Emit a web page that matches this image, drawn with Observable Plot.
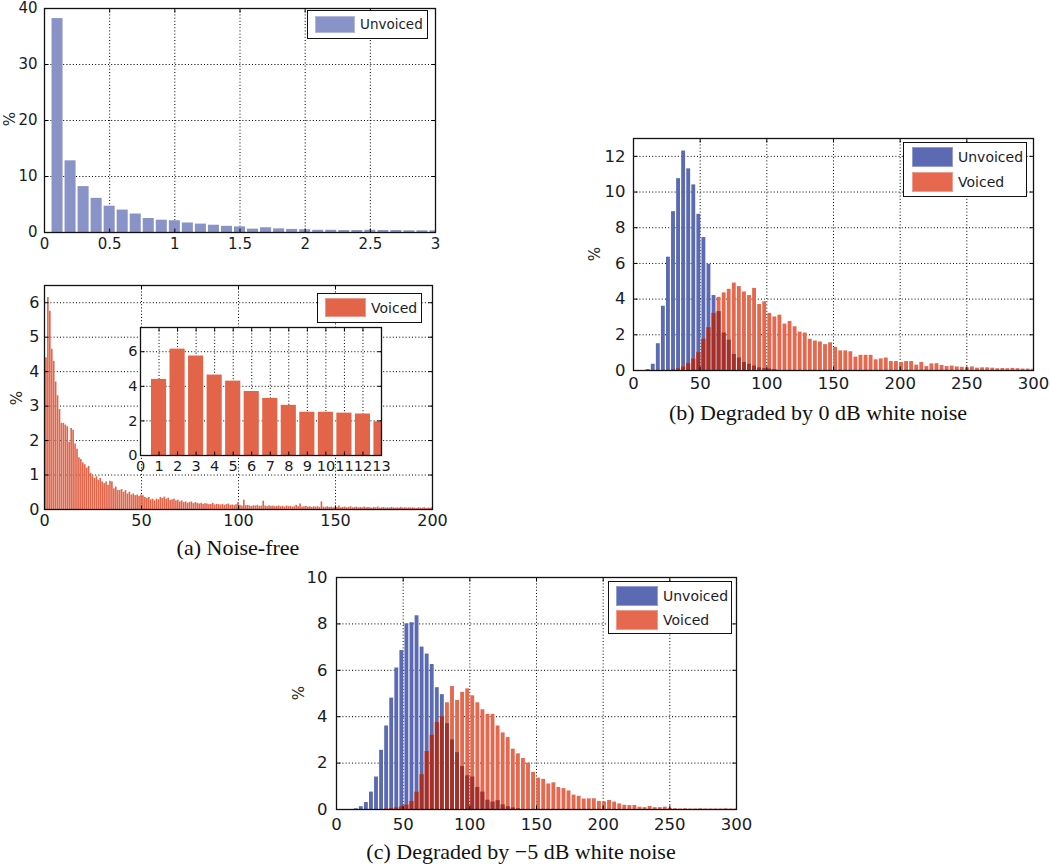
<!DOCTYPE html>
<html><head><meta charset="utf-8">
<script src="https://cdn.jsdelivr.net/npm/d3@7"></script>
<script src="https://cdn.jsdelivr.net/npm/@observablehq/plot@0.6"></script>
<style>
body{margin:0;background:#fff;}
#root{position:relative;width:1050px;height:866px;overflow:hidden;font-family:"DejaVu Sans";background:#fff;}
.panel{position:absolute;}
.legend{position:absolute;box-sizing:border-box;border:1.4px solid #111;background:#fff;}
.sw{position:absolute;}
.lt{position:absolute;white-space:nowrap;line-height:1;font-family:"DejaVu Sans";color:#1c1c28;transform:translateY(-50%);}
.cap{position:absolute;font-family:"Liberation Serif";font-size:22px;color:#111;white-space:nowrap;transform:translate(-50%,-50%);}
.ylab{position:absolute;font-family:"DejaVu Sans";font-size:15px;color:#2a2a2a;transform:translate(-50%,-50%) rotate(-90deg);}
</style></head><body><div id="root"></div>
<script>
// ---------------- DATA ----------------
// (a) top: unvoiced, noise-free (bin centers and %)
const aUnvCenters = [0.1,0.2,0.3,0.4,0.5,0.6,0.7,0.8,0.9,1.0,1.1,1.2,1.3,1.4,1.5,1.6,1.7,1.8,1.9,2.0,2.1,2.2,2.3,2.4,2.5,2.6,2.7,2.8,2.9,3.0];
const aUnvPct = [38.2,12.8,8.2,6.1,4.7,4.0,3.3,2.5,2.2,2.1,1.7,1.5,1.3,1.1,1.0,0.6,0.85,0.65,0.55,0.5,0.4,0.4,0.35,0.35,0.4,0.35,0.35,0.3,0.3,0.3];
const aUnvWidth = 0.1;
// (a) bottom: voiced, noise-free (bins 1..200, width 1)
const aVoiPct = [
 4.4,6.15,5.75,4.65,4.3,3.7,3.3,2.9,2.5,2.5,
 2.45,2.4,1.95,2.35,2.3,1.9,1.75,1.5,1.45,1.35,
 1.3,1.2,1.25,1.05,1.0,0.9,0.95,0.85,0.9,0.8,
 0.75,0.8,0.7,0.82,0.8,0.6,0.65,0.55,0.55,0.58,
 0.5,0.55,0.45,0.5,0.42,0.45,0.4,0.42,0.38,0.42,
 0.4,0.35,0.32,0.35,0.28,0.3,0.25,0.3,0.28,0.35,
 0.32,0.36,0.3,0.33,0.26,0.28,0.3,0.25,0.27,0.22,
 0.25,0.2,0.22,0.18,0.2,0.22,0.17,0.2,0.18,0.16,
 0.18,0.15,0.17,0.16,0.14,0.15,0.18,0.13,0.15,0.14,
 0.13,0.15,0.12,0.14,0.16,0.12,0.13,0.11,0.14,0.2,
 0.12,0.1,0.27,0.11,0.12,0.1,0.09,0.11,0.1,0.12,
 0.09,0.1,0.24,0.1,0.08,0.11,0.09,0.1,0.08,0.09,
 0.1,0.08,0.09,0.07,0.1,0.08,0.09,0.07,0.08,0.12,
 0.08,0.16,0.07,0.08,0.09,0.07,0.08,0.06,0.08,0.07,
 0.08,0.06,0.22,0.07,0.06,0.08,0.06,0.07,0.05,0.07,
 0.06,0.1,0.05,0.06,0.07,0.05,0.06,0.08,0.05,0.06,
 0.07,0.05,0.06,0.05,0.07,0.05,0.06,0.05,0.04,0.06,
 0.05,0.07,0.04,0.05,0.06,0.04,0.05,0.04,0.06,0.05,
 0.04,0.05,0.04,0.06,0.04,0.05,0.04,0.05,0.04,0.05,
 0.04,0.03,0.05,0.04,0.04,0.05,0.03,0.04,0.04,0.05];
const aVoiFirstBin = 1, aVoiWidth = 1;
const insetBins = 13;
// (b) 0 dB and (c) -5 dB: bins start at 3.4, width 3.8
const noisyFirstBin = 3.4, noisyWidth = 3.8;
const bUnvPct = [
 0,0,0.05,0.35,1.5,3.6,6.35,8.9,10.75,12.3,
 11.3,10.4,8.75,7.45,5.95,4.2,3.3,2.1,1.7,0.9,
 0.7,0.45,0.35,0.25,0.15,0.1,0.08,0.05,0,0,
 0,0,0,0,0,0,0,0,0,0, 0,0,0,0,0,0,0,0,0,0,
 0,0,0,0,0,0,0,0,0,0, 0,0,0,0,0,0,0,0,0,0,
 0,0,0,0,0,0,0,0,0];
const bVoiPct = [
 0,0,0,0,0,0,0,0.05,0.1,0.2,
 0.4,0.65,1.0,1.75,2.4,3.2,4.1,4.35,4.55,4.9,
 4.7,4.4,4.2,4.6,3.7,3.85,3.2,3.0,3.1,2.6,
 2.75,2.45,2.15,2.1,1.75,1.65,1.6,1.45,1.55,1.3,
 1.1,1.1,1.05,0.75,0.85,0.85,0.85,0.6,0.65,0.7,
 0.5,0.5,0.45,0.5,0.5,0.3,0.45,0.22,0.37,0.38,
 0.28,0.22,0.25,0.2,0.18,0.15,0.2,0.13,0.15,0.15,
 0.13,0.1,0.11,0.1,0.12,0.1,0.08,0.08,0.07];
const cUnvPct = [
 0,0,0,0.03,0.12,0.3,0.75,1.4,2.55,3.6,
 4.8,6.1,6.85,8.0,8.05,8.35,7.0,6.7,6.25,5.25,
 4.95,3.7,3.0,2.45,1.85,1.45,1.4,0.95,0.75,0.4,
 0.32,0.38,0.2,0.12,0.07,0.03,0,0,0,0,
 0,0,0,0,0,0,0,0,0,0, 0,0,0,0,0,0,0,0,0,0,
 0,0,0,0,0,0,0,0,0,0, 0,0,0,0,0,0,0,0,0];
const cVoiPct = [
 0,0,0,0,0,0,0,0,0,0.02,
 0.05,0.08,0.12,0.2,0.35,0.75,1.5,2.5,3.2,3.75,
 4.0,4.6,5.3,4.7,5.05,5.2,4.9,4.6,4.3,4.1,
 4.1,3.6,3.3,3.1,2.6,2.4,2.2,2.0,1.6,1.35,
 1.3,1.1,1.15,0.95,0.9,0.8,0.62,0.57,0.45,0.46,
 0.46,0.35,0.33,0.39,0.32,0.24,0.18,0.17,0.17,0.1,
 0.08,0.13,0.08,0.08,0.1,0.05,0.03,0.02,0.03,0.02,
 0.02,0.03,0.02,0.02,0.02,0.02,0.03,0.02,0.02];
const seriesNames = ["Unvoiced","Voiced"];
const captions = ["(a) Noise-free","(b) Degraded by 0 dB white noise","(c) Degraded by \u22125 dB white noise"];
const aTopXTicks=[0,0.5,1,1.5,2,2.5,3], aTopYTicks=[0,10,20,30,40];
const aBotXTicks=[0,50,100,150,200], aBotYTicks=[0,1,2,3,4,5,6];
const insXTicks=[0,1,2,3,4,5,6,7,8,9,10,11,12,13], insYTicks=[0,2,4,6];
const noisyXTicks=[0,50,100,150,200,250,300];
const bYTicks=[0,2,4,6,8,10,12], cYTicks=[0,2,4,6,8,10];

// ---------------- STYLE ----------------
const C_LIGHTBLUE="#8a93c8", C_BLUE="#5b6ab3", C_RED="#e6684e", C_DARK="#a5302a", C_RED_A="#e2654a";
const root=document.getElementById("root");

const TUP={draw(c){c.moveTo(0,0);c.lineTo(0,-4);}};
const TDOWN={draw(c){c.moveTo(0,0);c.lineTo(0,4);}};
const TRIGHT={draw(c){c.moveTo(0,0);c.lineTo(4,0);}};
const TLEFT={draw(c){c.moveTo(0,0);c.lineTo(-4,0);}};

function bars(centers, values, w, fill, inset){
  const data = values.map((v,i)=>({x1:centers[i]-w/2, x2:centers[i]+w/2, y:v}));
  return Plot.rectY(data,{x1:"x1",x2:"x2",y:"y",fill,insetLeft:inset,insetRight:inset,clip:true});
}

function panel(o){
  const grid={stroke:"#000",strokeOpacity:1,strokeWidth:1,strokeDasharray:"1,2.2"};
  const marks=[];
  if(o.frameFill) marks.push(Plot.frame({fill:o.frameFill,stroke:null}));
  marks.push(Plot.gridX(o.xGrid,grid));
  marks.push(Plot.gridY(o.yGrid,grid));
  marks.push(...o.marks);
  const tk={stroke:"#000",fill:"none",strokeWidth:1};
  marks.push(Plot.dot(o.xTicks,{x:d=>d,frameAnchor:"bottom",symbol:TUP,...tk}));
  marks.push(Plot.dot(o.xTicks,{x:d=>d,frameAnchor:"top",symbol:TDOWN,...tk}));
  marks.push(Plot.dot(o.yTicks,{y:d=>d,frameAnchor:"left",symbol:TRIGHT,...tk}));
  marks.push(Plot.dot(o.yTicks,{y:d=>d,frameAnchor:"right",symbol:TLEFT,...tk}));
  marks.push(Plot.frame({stroke:"#111",strokeWidth:1.3}));
  marks.push(Plot.axisX(o.xTicks,{tickSize:0,tickPadding:o.xPad,tickFormat:d=>String(d),fontSize:o.fs,fill:"#1a1a24"}));
  marks.push(Plot.axisY(o.yTicks,{tickSize:0,tickPadding:o.yPad,tickFormat:d=>String(d),fontSize:o.fs,fill:"#1a1a24"}));
  const svg=Plot.plot({
    width:o.width,height:o.height,
    marginLeft:o.ml,marginRight:o.mr,marginTop:o.mt,marginBottom:o.mb,
    x:{domain:o.xDomain,label:null},y:{domain:o.yDomain,label:null},
    style:{fontFamily:"DejaVu Sans",fontSize:o.fs+"px",background:"transparent",overflow:"visible",color:"#1a1a24"},
    marks
  });
  const div=document.createElement("div");
  div.className="panel";div.style.left=o.left+"px";div.style.top=o.top+"px";
  div.appendChild(svg);root.appendChild(div);
}

function legend(x,y,w,h,items,fs){
  const d=document.createElement("div");d.className="legend";
  Object.assign(d.style,{left:x+"px",top:y+"px",width:w+"px",height:h+"px"});
  items.forEach(it=>{
    const s=document.createElement("div");s.className="sw";
    Object.assign(s.style,{left:it.sx+"px",top:it.sy+"px",width:it.sw+"px",height:it.sh+"px",background:it.color,boxShadow:"inset 0 0 0 1px rgba(255,255,255,0.35)"});
    d.appendChild(s);
    const t=document.createElement("div");t.className="lt";t.textContent=it.label;
    Object.assign(t.style,{left:it.tx+"px",top:(it.sy+it.sh/2)+"px",fontSize:fs+"px"});
    d.appendChild(t);
  });
  root.appendChild(d);
}
function text(cls,str,x,y){
  const t=document.createElement("div");t.className=cls;t.textContent=str;
  t.style.left=x+"px";t.style.top=y+"px";root.appendChild(t);
}

const noisyCenters=bUnvPct.map((_,j)=>noisyFirstBin+noisyWidth*j);
const aVoiCenters=aVoiPct.map((_,i)=>aVoiFirstBin+aVoiWidth*i);
function overlap(a,b){return a.map((v,i)=>Math.min(v,b[i]));}

// (a) top
panel({left:0,top:0,width:450,height:262,ml:44,mr:15,mt:8,mb:30,
  xDomain:[0,3],yDomain:[0,40],xTicks:aTopXTicks,yTicks:aTopYTicks,
  xGrid:[0.5,1,1.5,2,2.5],yGrid:[10,20,30],fs:15,xPad:6,yPad:7,
  marks:[bars(aUnvCenters,aUnvPct,aUnvWidth,C_LIGHTBLUE,1)]});
legend(307,10,121,29,[{sx:7,sy:5,sw:40,sh:17,color:C_LIGHTBLUE,label:seriesNames[0],tx:52}],13.5);
text("ylab","%",10,119);

// (a) bottom
panel({left:0,top:270,width:450,height:262,ml:44,mr:18,mt:15,mb:23,
  xDomain:[0,200],yDomain:[0,6.5],xTicks:aBotXTicks,yTicks:aBotYTicks,
  xGrid:[50,100,150],yGrid:[1,2,3,4,5,6],fs:16,xPad:5,yPad:5,
  marks:[bars(aVoiCenters,aVoiPct,aVoiWidth,C_RED_A,0.15)]});
legend(317,293,105,30,[{sx:7,sy:4,sw:41,sh:19,color:C_RED_A,label:seriesNames[1],tx:53}],14);
text("ylab","%",17,398);
// inset
panel({left:100,top:315,width:300,height:170,ml:40,mr:19,mt:12,mb:30,
  xDomain:[0,13],yDomain:[0,7.4],xTicks:insXTicks,yTicks:insYTicks,
  xGrid:[1,2,3,4,5,6,7,8,9,10,11,12],yGrid:[2,4,6],fs:14.5,xPad:5,yPad:3,frameFill:"#fff",
  marks:[bars(aVoiCenters.slice(0,insetBins),aVoiPct.slice(0,insetBins),aVoiWidth,C_RED_A,1.7)]});
text("cap",captions[0],238,548);

// (b)
panel({left:580,top:130,width:470,height:270,ml:53,mr:17,mt:8,mb:30,
  xDomain:[0,300],yDomain:[0,13],xTicks:noisyXTicks,yTicks:bYTicks,
  xGrid:[50,100,150,200,250],yGrid:[2,4,6,8,10,12],fs:16.5,xPad:7,yPad:8,
  marks:[bars(noisyCenters,bUnvPct,noisyWidth,C_BLUE,0.6),
         bars(noisyCenters,bVoiPct,noisyWidth,C_RED,0.6),
         bars(noisyCenters,overlap(bUnvPct,bVoiPct),noisyWidth,C_DARK,0.6)]});
legend(903,142,124,55,[
  {sx:8,sy:4,sw:41,sh:20,color:C_BLUE,label:seriesNames[0],tx:54},
  {sx:8,sy:29,sw:41,sh:20,color:C_RED,label:seriesNames[1],tx:54}],14);
text("ylab","%",595,254);
text("cap",captions[1],818,413);

// (c)
panel({left:280,top:560,width:480,height:280,ml:56,mr:24,mt:17,mb:31,
  xDomain:[0,300],yDomain:[0,10],xTicks:noisyXTicks,yTicks:cYTicks,
  xGrid:[50,100,150,200,250],yGrid:[2,4,6,8],fs:16.5,xPad:9,yPad:9,
  marks:[bars(noisyCenters,cUnvPct,noisyWidth,C_BLUE,0.6),
         bars(noisyCenters,cVoiPct,noisyWidth,C_RED,0.6),
         bars(noisyCenters,overlap(cUnvPct,cVoiPct),noisyWidth,C_DARK,0.6)]});
legend(608,581,124,53,[
  {sx:7,sy:4,sw:42,sh:20,color:C_BLUE,label:seriesNames[0],tx:54},
  {sx:7,sy:28,sw:42,sh:20,color:C_RED,label:seriesNames[1],tx:54}],14);
text("ylab","%",299,693);
text("cap",captions[2],521,852);
</script></body></html>
